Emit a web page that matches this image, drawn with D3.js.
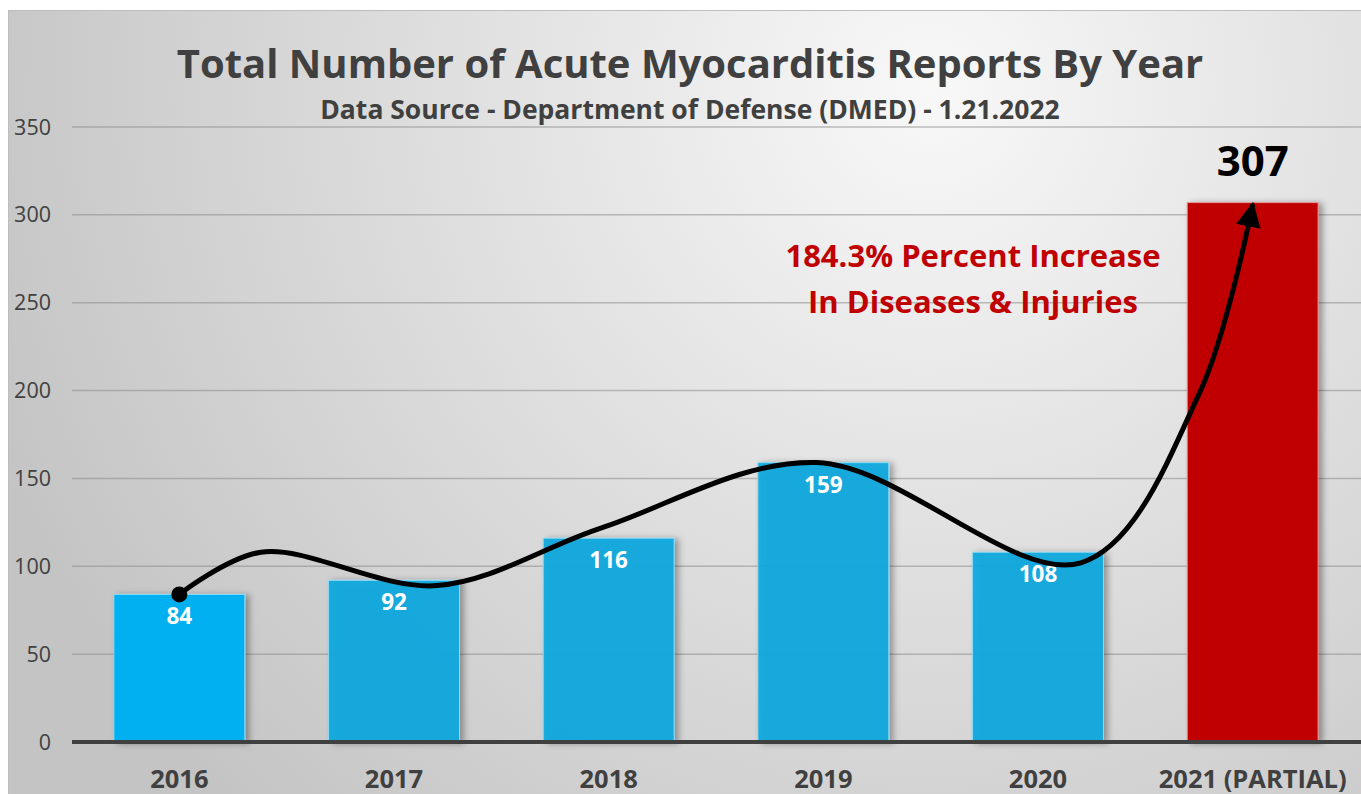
<!DOCTYPE html>
<html lang="en">
<head>
<meta charset="utf-8">
<script src="https://cdn.jsdelivr.net/npm/d3@7"></script>
<style>
  body { margin: 0; background: #fff; }
  svg text { font-family: "Open Sans", Lato, sans-serif; }
</style>
</head>
<body>
<svg id="chart" width="1361" height="794"></svg>
<script>
// data
const years = ["2016", "2017", "2018", "2019", "2020", "2021 (PARTIAL)"];
const reports = [84, 92, 116, 159, 108, 307];
const yTicks = [0, 50, 100, 150, 200, 250, 300, 350];
// trend curve drawn over the bars: [band index, value]
const trendIdx = [0, 0.38, 1.2, 1.97, 2.97, 4.2, 4.75, 5.0];
const trendVal = [84, 108, 89, 122, 159, 102, 198, 306];

const svg = d3.select("#chart");
const W = 1361, H = 794;
const margin = {top: 127, right: 1, bottom: 52, left: 72};

const defs = svg.append("defs");
const bg = defs.append("radialGradient").attr("id", "bg")
  .attr("gradientUnits", "userSpaceOnUse")
  .attr("cx", 930).attr("cy", 90).attr("r", 1000);
bg.append("stop").attr("offset", "0%").attr("stop-color", "#f8f8f8");
bg.append("stop").attr("offset", "100%").attr("stop-color", "#c4c4c4");

const shadow = defs.append("filter").attr("id", "shadow")
  .attr("x", "-20%").attr("y", "-10%").attr("width", "140%").attr("height", "120%");
shadow.append("feDropShadow").attr("dx", 4).attr("dy", 1).attr("stdDeviation", 3)
  .attr("flood-color", "#000").attr("flood-opacity", 0.35);

defs.append("marker").attr("id", "arrow")
  .attr("viewBox", "0 0 10 10").attr("refX", 9).attr("refY", 5)
  .attr("markerWidth", 5).attr("markerHeight", 5)
  .attr("markerUnits", "strokeWidth")
  .attr("orient", "auto")
  .append("path").attr("d", "M0,0 L10,5 L0,10 Z").attr("fill", "#000");

// background panel
svg.append("rect").attr("x", 8.5).attr("y", 10.5)
  .attr("width", W - 8).attr("height", H - 10)
  .attr("fill", "url(#bg)").attr("stroke", "#bdbdbd");

const x = d3.scaleBand().domain(years)
  .range([margin.left, W - margin.right]).paddingInner(0.39).paddingOuter(0.195);
const y = d3.scaleLinear().domain([0, 350]).range([H - margin.bottom, margin.top]);

// grid
svg.append("g").selectAll("line").data(yTicks.filter(d => d > 0)).join("line")
  .attr("x1", margin.left).attr("x2", W)
  .attr("y1", d => y(d)).attr("y2", d => y(d))
  .attr("stroke", "#8c8c8c").attr("stroke-opacity", 0.55).attr("stroke-width", 1.5);

// y tick labels
svg.append("g").selectAll("text").data(yTicks).join("text")
  .attr("x", 51).attr("y", d => y(d)).attr("dy", "0.35em")
  .attr("text-anchor", "end").attr("font-size", 21.5).attr("fill", "#404040")
  .text(d => d);

// bars
svg.append("g").selectAll("rect").data(reports).join("rect")
  .attr("x", (d, i) => x(years[i])).attr("width", x.bandwidth())
  .attr("y", d => y(d)).attr("height", d => y(0) - y(d))
  .attr("fill", (d, i) => i === 5 ? "#c00000" : (i === 0 ? "#00b0f0" : "#0ea8df"))
  .attr("fill-opacity", (d, i) => i === 0 || i === 5 ? 1 : 0.93)
  .attr("stroke", (d, i) => i === 5 ? "#e89a9a" : "#8fdaf5").attr("stroke-width", 1)
  .attr("filter", "url(#shadow)");

// value labels inside bars
svg.append("g").selectAll("text").data(reports.slice(0, 5)).join("text")
  .attr("x", (d, i) => x(years[i]) + x.bandwidth() / 2)
  .attr("y", d => y(d) + 30)
  .attr("text-anchor", "middle").attr("font-size", 22.5).attr("font-weight", 700)
  .attr("fill", "#fff").text(d => d);

svg.append("text")
  .attr("x", x(years[5]) + x.bandwidth() / 2).attr("y", y(reports[5]) - 27)
  .attr("text-anchor", "middle").attr("font-size", 42).attr("font-weight", 700)
  .attr("fill", "#000").text(reports[5]);

// axis line
svg.append("line").attr("x1", margin.left).attr("x2", W)
  .attr("y1", y(0)).attr("y2", y(0))
  .attr("stroke", "#404040").attr("stroke-width", 4);

// x labels
svg.append("g").selectAll("text").data(years).join("text")
  .attr("x", d => x(d) + x.bandwidth() / 2).attr("y", 788)
  .attr("text-anchor", "middle").attr("font-size", 25.5).attr("font-weight", 700)
  .attr("fill", "#404040").text(d => d);

// titles
svg.append("text").attr("x", 690).attr("y", 78).attr("text-anchor", "middle")
  .attr("font-size", 40).attr("font-weight", 700).attr("fill", "#404040")
  .text("Total Number of Acute Myocarditis Reports By Year");
svg.append("text").attr("x", 690).attr("y", 119).attr("text-anchor", "middle")
  .attr("font-size", 26.5).attr("font-weight", 700).attr("fill", "#404040")
  .text("Data Source - Department of Defense (DMED) - 1.21.2022");

// annotation
svg.append("text").attr("x", 973).attr("y", 267).attr("text-anchor", "middle")
  .attr("font-size", 31).attr("font-weight", 700).attr("fill", "#c00000")
  .text("184.3% Percent Increase");
svg.append("text").attr("x", 973).attr("y", 313).attr("text-anchor", "middle")
  .attr("font-size", 31).attr("font-weight", 700).attr("fill", "#c00000")
  .text("In Diseases & Injuries");

// trend curve
const cx = i => x(years[0]) + x.bandwidth() / 2 + i * x.step();
const line = d3.line().x(d => cx(d[0])).y(d => y(d[1])).curve(d3.curveCatmullRom.alpha(0.5));
svg.append("path").datum(trendIdx.map((d, i) => [d, trendVal[i]]))
  .attr("d", line).attr("fill", "none").attr("stroke", "#000")
  .attr("stroke-width", 5).attr("marker-end", "url(#arrow)");
svg.append("circle").attr("cx", cx(trendIdx[0])).attr("cy", y(trendVal[0]))
  .attr("r", 8).attr("fill", "#000");
</script>
</body>
</html>
